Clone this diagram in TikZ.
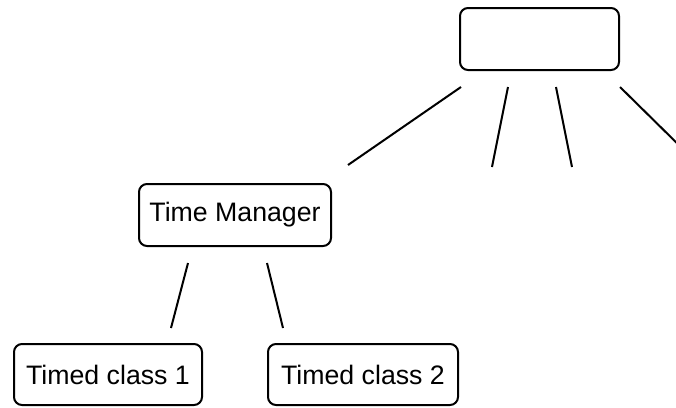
\documentclass[tikz,border=0pt]{standalone}
\usepackage{fontspec}
\setmainfont{Liberation Sans}
\usetikzlibrary{calc}
\begin{document}
\begin{tikzpicture}[x=1pt,y=-1pt,
  box/.style={draw, line width=2pt, rounded corners=8pt, inner sep=0pt,
    font=\fontsize{26.7}{32}\selectfont},
  link/.style={line width=2pt}]
  \clip (0,0) rectangle (676,407);
  % tree of boxes
  \node[box, minimum width=159pt, minimum height=62pt] (top) at (539.5,39) {};
  \node[box, minimum width=192pt, minimum height=62pt] (tm) at (235,215) {Time Manager};
  \node[box, minimum width=188pt, minimum height=61pt] (tc1) at (108,374.5) {Timed class 1};
  \node[box, minimum width=190pt, minimum height=61pt] (tc2) at (363,374.5) {Timed class 2};
  % open branch ends
  \coordinate (b2) at (492,167);
  \coordinate (b3) at (572,167);
  \coordinate (b4) at (690,156);
  % connectors
  \draw[link] ($(top.south west)+(2,16)$) -- ($(tm.north east)+(16,-18)$);
  \draw[link] ($(top.south west)+(49,16)$) -- (b2);
  \draw[link] ($(top.south west)+(97,16)$) -- (b3);
  \draw[link] ($(top.south east)+(0,16)$) -- (b4);
  \draw[link] ($(tm.south west)+(50,16)$) -- ($(tc1.north east)+(-32,-15)$);
  \draw[link] ($(tm.south west)+(129,16)$) -- ($(tc2.north west)+(16,-15)$);
\end{tikzpicture}
\end{document}
